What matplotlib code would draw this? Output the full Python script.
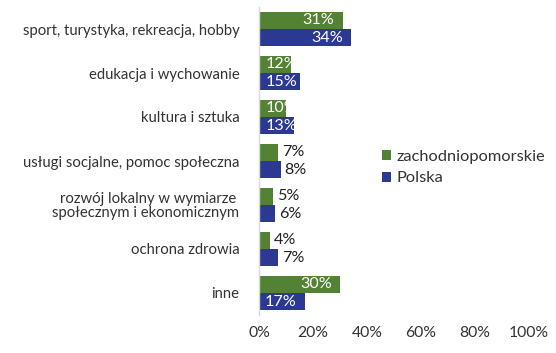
import matplotlib
matplotlib.use("Agg")
import matplotlib.pyplot as plt
import numpy as np

categories = ["sport, turystyka, rekreacja, hobby", "edukacja i wychowanie", "kultura i sztuka",
              "usługi socjalne, pomoc społeczna", "rozwój lokalny w wymiarze \nspołecznym i ekonomicznym",
              "ochrona zdrowia", "inne"]
zach = [31, 12, 10, 7, 5, 4, 30]
polska = [34, 15, 13, 8, 6, 7, 17]
series_names = ["zachodniopomorskie", "Polska"]
xticks = [0, 20, 40, 60, 80, 100]

plt.rcParams['font.family'] = ['Lato', 'DejaVu Sans']
txt = '#333333'
green = '#548235'
blue = '#2B3990'

fig = plt.figure(figsize=(5.56, 3.53), dpi=100)
ax = fig.add_axes([259/556, 1 - 315/353, 270/556, 308/353])

y = np.arange(len(categories))
h = 0.37
bg = ax.barh(y - h/2 - 0.01, zach, height=h, color=green, label=series_names[0])
bb = ax.barh(y + h/2 + 0.01, polska, height=h, color=blue, label=series_names[1])

ax.set_xlim(0, 100)
ax.set_ylim(len(categories) - 0.5, -0.5)
ax.set_yticks(y)
ax.set_yticklabels(categories, fontsize=10.7, color=txt, linespacing=1.0)
ax.set_xticks(xticks)
ax.set_xticklabels([f"{v}%" for v in xticks], fontsize=11.3, color=txt)
ax.tick_params(axis='both', length=0)
ax.tick_params(axis='y', pad=14)
ax.tick_params(axis='x', pad=8)
for s in ['top', 'right', 'bottom']:
    ax.spines[s].set_visible(False)
ax.spines['left'].set_color('#d9d9d9')
ax.spines['left'].set_linewidth(1)

fs = 11.6
def label(bars, vals):
    for b, v in zip(bars, vals):
        cy = b.get_y() + b.get_height()/2
        if v >= 10:
            xr = v - 3
            if xr < 14:
                t = ax.text(2.5, cy, f"{v}%", ha='left', va='center', color='white', fontsize=fs)
            else:
                t = ax.text(xr, cy, f"{v}%", ha='right', va='center', color='white', fontsize=fs)
            t.set_clip_path(b)
        else:
            ax.text(v + 1.5, cy, f"{v}%", ha='left', va='center', color='#222222', fontsize=fs)

label(bg, zach)
label(bb, polska)

leg = ax.legend(loc='upper left', bbox_to_anchor=(382/556, 1 - 150/353), bbox_transform=fig.transFigure,
                frameon=False, fontsize=11.8, handlelength=0.55, handleheight=0.55, handletextpad=0.35,
                labelspacing=0.45, borderaxespad=0, borderpad=0)
for t in leg.get_texts():
    t.set_color(txt)

fig.savefig("out.png", dpi=100)
